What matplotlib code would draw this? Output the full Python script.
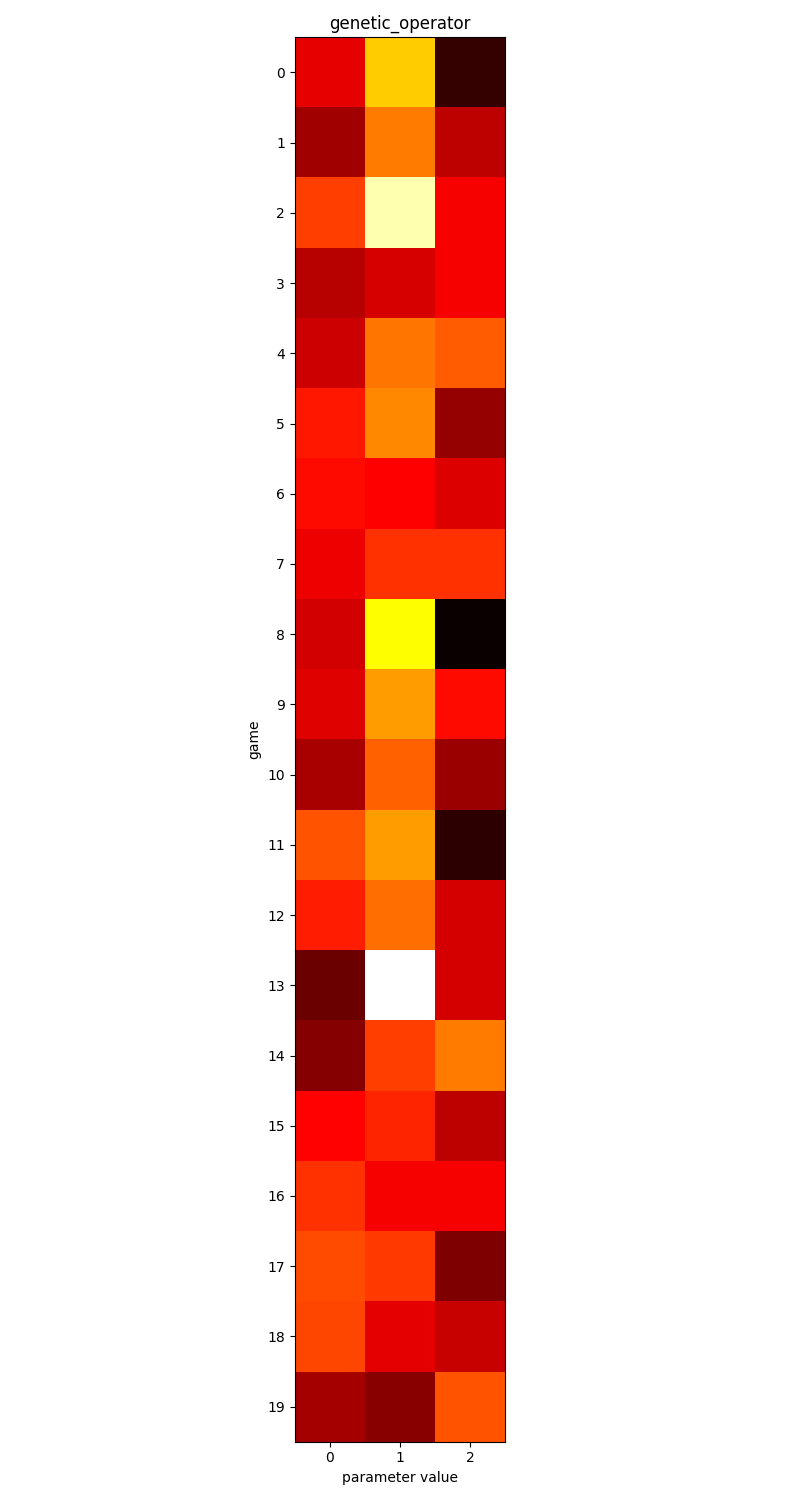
import numpy as np
import matplotlib
matplotlib.use("Agg")
import matplotlib.pyplot as plt

games = list(range(20))
param_values = [0, 1, 2]

col0 = [0.331, 0.223, 0.46, 0.26, 0.29, 0.40, 0.38, 0.343, 0.298, 0.32,
        0.238, 0.49, 0.41, 0.148, 0.186, 0.37, 0.44, 0.48, 0.47, 0.231]
col1 = [0.67, 0.55, 0.92, 0.305, 0.54, 0.57, 0.365, 0.44, 0.746, 0.60,
        0.51, 0.60, 0.53, 1.00, 0.46, 0.42, 0.352, 0.45, 0.328, 0.19]
col2 = [0.066, 0.268, 0.352, 0.352, 0.50, 0.208, 0.313, 0.44, 0.00, 0.38,
        0.216, 0.051, 0.301, 0.301, 0.55, 0.268, 0.352, 0.175, 0.283, 0.49]

data = np.column_stack([col0, col1, col2])

fig = plt.figure(figsize=(8, 15))
plt.imshow(data, cmap='hot')
plt.title("genetic_operator")
plt.xlabel("parameter value")
plt.ylabel("game")
plt.xticks(range(len(param_values)), param_values)
plt.yticks(range(len(games)), games)
plt.tight_layout()
plt.savefig("out.png", dpi=100)
